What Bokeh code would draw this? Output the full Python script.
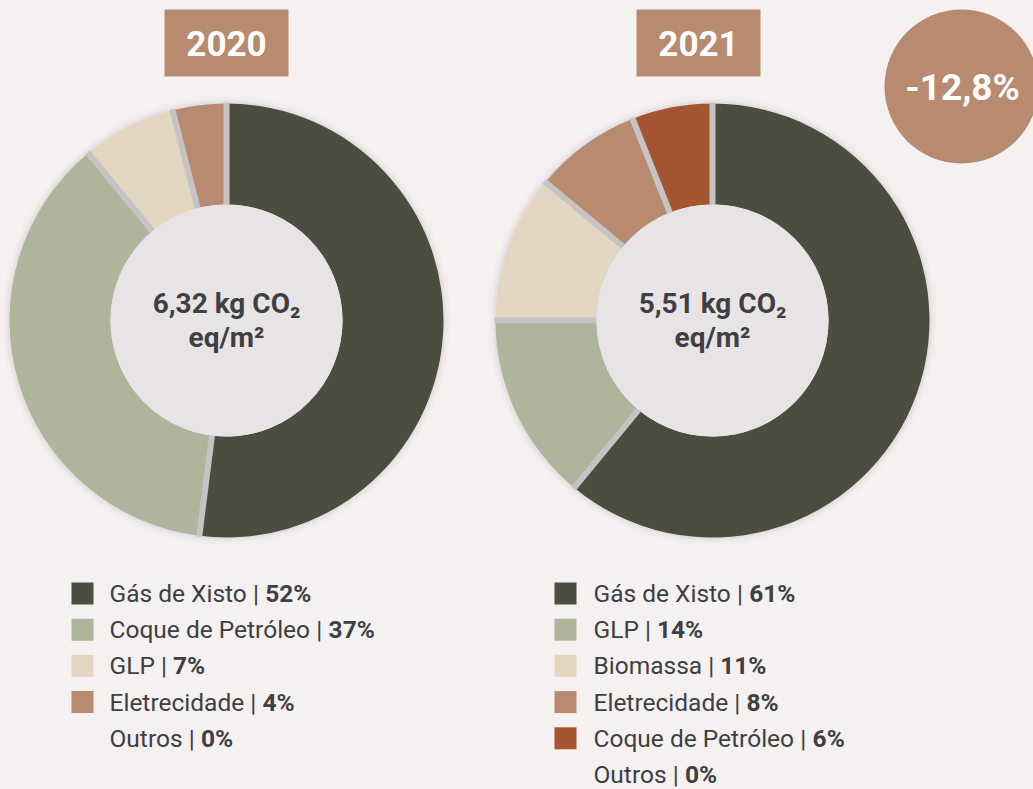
import math, struct, subprocess
from bokeh.plotting import figure
from bokeh.models import Range1d, ColumnDataSource
from bokeh.core.properties import value
from bokeh.embed import file_html
from bokeh.resources import INLINE

# ---------------- data ----------------
years = ["2020", "2021"]
labels_2020 = ["Gás de Xisto", "Coque de Petróleo", "GLP", "Eletrecidade", "Outros"]
values_2020 = [52, 37, 7, 4, 0]
colors_2020 = ["#4b4d3e", "#afb59c", "#e3d6c3", "#b88a6f", None]
labels_2021 = ["Gás de Xisto", "GLP", "Biomassa", "Eletrecidade", "Coque de Petróleo", "Outros"]
values_2021 = [61, 14, 11, 8, 6, 0]
colors_2021 = ["#4b4d3e", "#afb59c", "#e3d6c3", "#b88a6f", "#a65533", None]
center_main = ["6,32 kg CO\u2082", "5,51 kg CO\u2082"]
center_unit = "eq/m\u00b2"
change_label = "-12,8%"

BG = "#f5f1f0"
TXT = "#3e3f43"
FONT = "Roboto"
W, H = 1033, 789

# ---------------- text measuring ----------------
class Metrics:
    def __init__(self, spec):
        self.ok = False
        try:
            path = subprocess.run(["fc-match", "-f", "%{file}", spec], capture_output=True,
                                  text=True, timeout=5).stdout.strip()
            data = open(path, "rb").read()
            off = 0
            if data[:4] == b"ttcf":
                off = struct.unpack(">I", data[12:16])[0]
            nt = struct.unpack(">H", data[off + 4:off + 6])[0]
            tables = {}
            for i in range(nt):
                rec = off + 12 + 16 * i
                tag = data[rec:rec + 4].decode("latin1")
                o, l = struct.unpack(">II", data[rec + 8:rec + 16])
                tables[tag] = o
            head = tables["head"]
            self.upem = struct.unpack(">H", data[head + 18:head + 20])[0]
            hhea = tables["hhea"]
            nhm = struct.unpack(">H", data[hhea + 34:hhea + 36])[0]
            hm = tables["hmtx"]
            self.adv = [struct.unpack(">H", data[hm + 4 * i:hm + 4 * i + 2])[0] for i in range(nhm)]
            cm = tables["cmap"]
            n = struct.unpack(">H", data[cm + 2:cm + 4])[0]
            sub = None
            for i in range(n):
                pid, eid, so = struct.unpack(">HHI", data[cm + 4 + 8 * i:cm + 12 + 8 * i])
                fmt = struct.unpack(">H", data[cm + so:cm + so + 2])[0]
                if fmt == 4 and pid in (0, 3):
                    sub = cm + so
                    break
            segx2 = struct.unpack(">H", data[sub + 6:sub + 8])[0]
            seg = segx2 // 2
            self.ends = struct.unpack(">%dH" % seg, data[sub + 14:sub + 14 + segx2])
            so_ = sub + 16 + segx2
            self.starts = struct.unpack(">%dH" % seg, data[so_:so_ + segx2])
            do_ = so_ + segx2
            self.deltas = struct.unpack(">%dh" % seg, data[do_:do_ + segx2])
            self.ro_off = do_ + segx2
            self.ros = struct.unpack(">%dH" % seg, data[self.ro_off:self.ro_off + segx2])
            self.data = data
            self.ok = True
        except Exception:
            self.ok = False

    def glyph(self, c):
        for i, e in enumerate(self.ends):
            if e >= c:
                if self.starts[i] > c:
                    return 0
                if self.ros[i] == 0:
                    return (c + self.deltas[i]) & 0xFFFF
                addr = self.ro_off + 2 * i + self.ros[i] + 2 * (c - self.starts[i])
                g = struct.unpack(">H", self.data[addr:addr + 2])[0]
                return 0 if g == 0 else (g + self.deltas[i]) & 0xFFFF
        return 0

    def width(self, s, size):
        if not self.ok:
            return 0.5 * size * len(s)
        tot = 0
        for ch in s:
            g = self.glyph(ord(ch))
            tot += self.adv[min(g, len(self.adv) - 1)]
        return tot * size / self.upem

reg = Metrics(FONT + ":weight=80")

# ---------------- figure ----------------
p = figure(width=W, height=H, x_range=Range1d(0, W), y_range=Range1d(0, H),
           output_backend="svg", toolbar_location=None, min_border=0,
           background_fill_color=BG, border_fill_color=BG, outline_line_color=None,
           x_axis_type=None, y_axis_type=None)
p.grid.visible = False

R_OUT, R_IN = 217, 116
centers = [(226, H - 320), (712, H - 320)]
all_vals = [values_2020, values_2021]
all_cols = [colors_2020, colors_2021]
all_labels = [labels_2020, labels_2021]

for k in range(2):
    cx, cy = centers[k]
    vals, cols = all_vals[k], all_cols[k]
    # soft shadow
    for r, a in [(224, 0.025), (221, 0.04), (219, 0.05)]:
        p.circle(x=[cx], y=[cy], radius=r, fill_color="#6b6060", fill_alpha=a, line_color=None)
    tot = float(sum(vals))
    cum = 0.0
    st, en, cc = [], [], []
    bounds = []
    for v, c in zip(vals, cols):
        if v <= 0:
            continue
        a0 = math.pi / 2 - 2 * math.pi * (cum + v) / tot
        a1 = math.pi / 2 - 2 * math.pi * cum / tot
        st.append(a0); en.append(a1); cc.append(c)
        bounds.append(a1)
        cum += v
    src = ColumnDataSource(dict(x=[cx] * len(st), y=[cy] * len(st), s=st, e=en, c=cc))
    p.annular_wedge(x="x", y="y", inner_radius=R_IN, outer_radius=R_OUT, start_angle="s",
                    end_angle="e", fill_color="c", line_color=None, source=src)
    # separators
    x0 = [cx + R_IN * math.cos(a) for a in bounds]
    y0 = [cy + R_IN * math.sin(a) for a in bounds]
    x1 = [cx + (R_OUT + 1) * math.cos(a) for a in bounds]
    y1 = [cy + (R_OUT + 1) * math.sin(a) for a in bounds]
    p.segment(x0=x0, y0=y0, x1=x1, y1=y1, line_color="#c6c3c3", line_width=6)
    # inner disc
    p.circle(x=[cx], y=[cy], radius=R_IN, fill_color="#e8e4e5", line_color=None)
    p.text(x=[cx], y=[cy + 17], text=[center_main[k]], text_font=value(FONT),
           text_font_style="bold", text_font_size="28px", text_color=TXT,
           text_align="center", text_baseline="middle")
    p.text(x=[cx], y=[cy - 17], text=[center_unit], text_font=value(FONT),
           text_font_style="bold", text_font_size="28px", text_color=TXT,
           text_align="center", text_baseline="middle")

# year boxes
box_x = [226, 698]
p.rect(x=box_x, y=[H - 42.5] * 2, width=124, height=67, fill_color="#b88a6f", line_color=None)
p.text(x=box_x, y=[H - 43] * 2, text=years, text_font=value(FONT), text_font_style="bold",
       text_font_size="35px", text_color="white", text_align="center", text_baseline="middle")

# change circle
p.circle(x=[961], y=[H - 86], radius=77, fill_color="#b88a6f", line_color=None)
p.text(x=[962], y=[H - 87], text=[change_label], text_font=value(FONT), text_font_style="bold",
       text_font_size="37px", text_color="white", text_align="center", text_baseline="middle")

# legends
leg_sq_x = [82, 565]
leg_tx_x = [109, 593]
FS = 24.5
for k in range(2):
    labels, vals, cols = all_labels[k], all_vals[k], all_cols[k]
    ys = [H - (593 + 36.2 * i) for i in range(len(labels))]
    sq_y = [y for y, c in zip(ys, cols) if c]
    sq_c = [c for c in cols if c]
    p.rect(x=[leg_sq_x[k]] * len(sq_y), y=sq_y, width=22, height=22, fill_color=sq_c,
           line_color=None)
    normal = ["%s | " % l for l in labels]
    bold = ["%d%%" % v for v in vals]
    bx = [leg_tx_x[k] + reg.width(s, FS) for s in normal]
    p.text(x=[leg_tx_x[k]] * len(ys), y=ys, text=normal, text_font=value(FONT),
           text_font_size="%spx" % FS, text_color=TXT, text_align="left", text_baseline="middle")
    p.text(x=bx, y=ys, text=bold, text_font=value(FONT), text_font_style="bold",
           text_font_size="%spx" % FS, text_color=TXT, text_align="left", text_baseline="middle")

html = file_html(p, INLINE)
html = html.replace("<head>", "<head><style>body{background:%s;}</style>" % BG, 1)
open("out.html", "w").write(html)
